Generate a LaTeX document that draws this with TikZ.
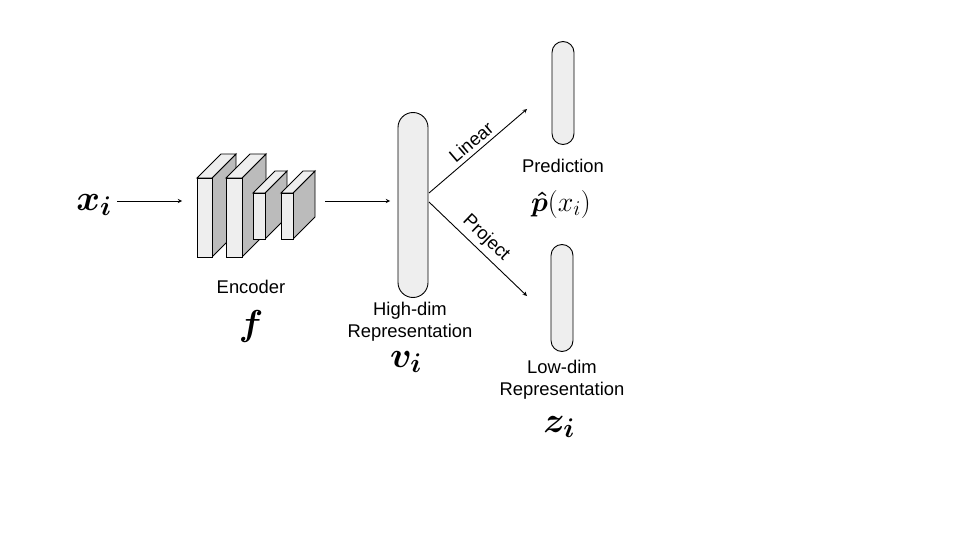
\documentclass[tikz,border=0pt]{standalone}
\usepackage{fix-cm}
\usepackage{fontspec}
\usepackage{amsmath}
\setmainfont{Liberation Sans}
\DeclareMathSizes{36}{36}{27}{20}
\DeclareMathSizes{28}{28}{21}{16}
\definecolor{facegray}{HTML}{EEEEEE}
\definecolor{sidegray}{HTML}{BBBBBB}
\tikzset{
	txt/.style={font=\fontsize{18.4}{22}\selectfont, align=center, inner sep=0pt},
	bigmath/.style={font=\fontsize{36}{40}\selectfont, inner sep=0pt},
	capsule/.style={draw, fill=facegray},
}
\begin{document}
\begin{tikzpicture}[x=1pt, y=-1pt, >=stealth, line width=0.9pt]
	\useasboundingbox (0,0) rectangle (960,540);
	%input
	\node[bigmath] (xi) at (94,205) {$\boldsymbol{x_i}$};
	\coordinate (xiout) at (117,201);
	\coordinate (encin) at (182,201);
	\draw[->] (xiout) -- (encin);
	
	%encoder blocks
	\foreach \xa/\xb/\ya/\yb/\d in {197/212/178/257/24, 226/242/178/257/24, 253/265/193/239/22, 281/293/193/239/22}{
		\draw[fill=sidegray] (\xb,\ya) -- ++(\d,-\d) -- (\xb+\d,\yb-\d) -- (\xb,\yb) -- cycle;
		\draw[fill=facegray] (\xa,\ya) -- ++(\d,-\d) -- (\xb+\d,\ya-\d) -- (\xb,\ya) -- cycle;
		\draw[fill=facegray] (\xa,\ya) rectangle (\xb,\yb);
	}
	\node[txt] (enclab) at (251,287) {Encoder};
	\node[bigmath] (f) at (251,326) {$\boldsymbol{f}$};
	\coordinate (encout) at (325,201);
	\coordinate (hvin) at (390,201);
	\draw[->] (encout) -- (hvin);
	
	%high-dim representation
	\node[capsule, rounded corners=15pt, minimum width=30pt, minimum height=185pt] (hv) at (413,205) {};
	\node[txt] (hdlab) at (410,322) {High-dim\\Representation};
	\node[bigmath] (vi) at (406,362) {$\boldsymbol{v_i}$};
	
	%heads
	\coordinate (lin0) at (429,193);
	\coordinate (lin1) at (527,109);
	\coordinate (proj0) at (429,202);
	\coordinate (proj1) at (527,296);
	\draw[->] (lin0) -- (lin1);
	\draw[->] (proj0) -- (proj1);
	\node[txt, rotate=40.6] (linlab) at (471,142) {Linear};
	\node[txt, rotate=-43.8] (projlab) at (486,238) {Project};
	
	%prediction
	\node[capsule, rounded corners=11pt, minimum width=22pt, minimum height=103pt] (pred) at (563,93) {};
	\node[txt] (predlab) at (563,166) {Prediction};
	\node[font=\fontsize{28}{32}\selectfont, inner sep=0pt] (phat) at (561,204) {$\boldsymbol{\hat{p}}(x_i)$};
	
	%low-dim representation
	\node[capsule, rounded corners=11pt, minimum width=22pt, minimum height=107pt] (low) at (562,298) {};
	\node[txt] (ldlab) at (562,380) {Low-dim\\Representation};
	\node[bigmath] (zi) at (559,427) {$\boldsymbol{z_i}$};
\end{tikzpicture}
\end{document}
